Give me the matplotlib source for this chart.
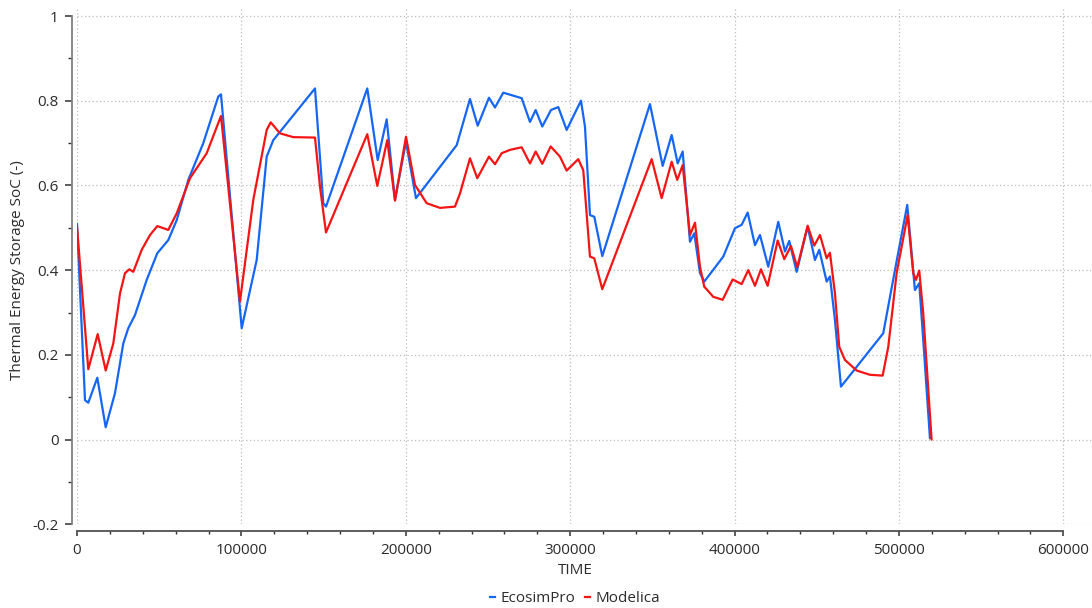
import matplotlib
matplotlib.use("Agg")
import matplotlib.pyplot as plt
from matplotlib.lines import Line2D
from matplotlib.ticker import MultipleLocator, FuncFormatter

plt.rcParams['font.family'] = ['Open Sans', 'DejaVu Sans']

# Simulation time (s) and thermal energy storage state of charge
ecosim_time = [0, 4870, 6870, 12350, 17460, 23120, 28160, 31210, 35280, 42400,
               48850, 55540, 60650, 67700, 76830, 85950, 87600, 100190, 109310,
               115400, 119410, 144780, 149830, 151470, 176590, 182910, 188390,
               193440, 200130, 206210, 230970, 239060, 243750, 250620, 254270,
               259320, 270510, 275560, 279020, 283040, 288330, 292770, 297880,
               306580, 309010, 312060, 314680, 319540, 348560, 356280, 361760,
               365410, 368450, 372900, 375510, 378980, 381590, 393150, 400260,
               404340, 407990, 412430, 415470, 420520, 426600, 430680, 433290,
               437790, 444480, 448920, 451540, 456040, 458050, 461090, 464740,
               490470, 497590, 505070, 509750, 512370, 514800, 518880]
ecosim_soc = [0.51, 0.093, 0.087, 0.146, 0.029, 0.11, 0.227, 0.263, 0.294, 0.377,
              0.44, 0.471, 0.518, 0.613, 0.70, 0.81, 0.815, 0.263, 0.424,
              0.668, 0.707, 0.829, 0.558, 0.55, 0.829, 0.66, 0.756,
              0.566, 0.703, 0.57, 0.695, 0.804, 0.741, 0.807, 0.784,
              0.819, 0.806, 0.75, 0.778, 0.739, 0.778, 0.785, 0.731,
              0.80, 0.739, 0.53, 0.526, 0.433, 0.792, 0.646, 0.719,
              0.652, 0.68, 0.467, 0.487, 0.393, 0.373, 0.432, 0.499,
              0.507, 0.536, 0.459, 0.483, 0.408, 0.514, 0.444, 0.469,
              0.396, 0.503, 0.424, 0.448, 0.373, 0.385, 0.282, 0.125,
              0.251, 0.40, 0.554, 0.353, 0.369, 0.235, 0.003]

modelica_time = [0, 6870, 12590, 17460, 22080, 26160, 29200, 31810, 34250, 39360,
                 44410, 48850, 55540, 60650, 68740, 78900, 86990, 87600, 99150,
                 107240, 115400, 117830, 123480, 131570, 144780, 147820, 151470,
                 176590, 182670, 188750, 193440, 200130, 205610, 212720, 220810,
                 229940, 232980, 239060, 243500, 250620, 254270, 258340, 263390,
                 270510, 275560, 279020, 283040, 288150, 293810, 297880, 304930,
                 307980, 312060, 314680, 319540, 349590, 355670, 361760, 365170,
                 368450, 372900, 375940, 378980, 381590, 387060, 392780, 398860,
                 404340, 408350, 412430, 416080, 420150, 426240, 430250, 434330,
                 438160, 444480, 448500, 451970, 456040, 458050, 461090, 463700,
                 467170, 474290, 482370, 490110, 493520, 498620, 505310, 508720,
                 510360, 512370, 514800, 519880]
modelica_soc = [0.503, 0.166, 0.249, 0.163, 0.227, 0.345, 0.393, 0.402, 0.396, 0.448,
                0.483, 0.504, 0.495, 0.534, 0.617, 0.676, 0.758, 0.764, 0.326,
                0.566, 0.731, 0.749, 0.723, 0.714, 0.713, 0.597, 0.489,
                0.721, 0.599, 0.707, 0.564, 0.715, 0.601, 0.558, 0.547,
                0.55, 0.581, 0.664, 0.617, 0.668, 0.65, 0.676, 0.684,
                0.69, 0.652, 0.68, 0.651, 0.692, 0.668, 0.635, 0.662,
                0.636, 0.432, 0.428, 0.355, 0.662, 0.57, 0.656, 0.613,
                0.648, 0.483, 0.512, 0.408, 0.361, 0.337, 0.33, 0.378,
                0.367, 0.40, 0.363, 0.402, 0.363, 0.47, 0.426, 0.457,
                0.407, 0.505, 0.458, 0.483, 0.428, 0.441, 0.345, 0.219,
                0.188, 0.163, 0.153, 0.151, 0.219, 0.393, 0.53, 0.393,
                0.377, 0.399, 0.298, 0.0]

x_major_ticks = [0, 100000, 200000, 300000, 400000, 500000, 600000]
y_major_ticks = [-0.2, 0, 0.2, 0.4, 0.6, 0.8, 1]
series_names = ['EcosimPro', 'Modelica']

BLUE = '#1566f5'
RED = '#f51414'
TEXT = '#2b2b2b'
W, H, DPI = 1092, 608, 100

fig = plt.figure(figsize=(W / DPI, H / DPI), dpi=DPI)
ax_left, ax_right, ax_top, ax_bottom = 77, 1092, 9, 524.3
ax = fig.add_axes([ax_left / W, 1 - ax_bottom / H,
                   (ax_right - ax_left) / W, (ax_bottom - ax_top) / H])

px_per_x = (1063.3 - 77) / 600000
ax.set_xlim(0, (ax_right - ax_left) / px_per_x)
px_per_y = (524.3 - 16) / 1.2
ax.set_ylim(-0.2, 1 + (16 - ax_top) / px_per_y)

ax.plot(ecosim_time, ecosim_soc, color=BLUE, lw=1.6, solid_joinstyle='round',
        solid_capstyle='round', zorder=3)
ax.plot(modelica_time, modelica_soc, color=RED, lw=1.6, solid_joinstyle='round',
        solid_capstyle='round', zorder=4)

# Spines: only left and bottom, pulled slightly away from the plot area
for s in ('top', 'right'):
    ax.spines[s].set_visible(False)
ax.spines['left'].set_position(('outward', 3.8))
ax.spines['bottom'].set_position(('outward', 5.0))
ax.spines['left'].set_bounds(-0.2, 1)
ax.spines['bottom'].set_bounds(0, 600000)
ax.spines['left'].set_color('#808080')
ax.spines['bottom'].set_color('#505050')
ax.spines['left'].set_linewidth(1.3)
ax.spines['bottom'].set_linewidth(1.3)

ax.set_xticks(x_major_ticks)
ax.xaxis.set_minor_locator(MultipleLocator(20000))
ax.set_yticks(y_major_ticks)
ax.yaxis.set_minor_locator(MultipleLocator(0.1))
ax.xaxis.set_major_formatter(FuncFormatter(lambda v, p: f'{int(round(v))}'))
ax.yaxis.set_major_formatter(FuncFormatter(lambda v, p: f'{v:g}'.replace('\u2212', '-')))

ax.tick_params(axis='y', which='major', length=5, width=1.1, color='#303030',
               pad=4.5, labelsize=11, labelcolor=TEXT)
ax.tick_params(axis='y', which='minor', length=3, width=1.0, color='#303030')
ax.tick_params(axis='x', which='major', length=3.8, width=1.1, color='#303030',
               pad=4.5, labelsize=11, labelcolor=TEXT)
ax.tick_params(axis='x', which='minor', length=2.3, width=1.0, color='#303030')

ax.grid(True, which='major', linestyle=(0, (1, 2)), color='#bdbdbd', lw=0.9)
ax.set_axisbelow(True)

fig.text(575 / W, 1 - 571 / H, 'TIME', ha='center', va='center',
         fontsize=11, color=TEXT)
fig.text(18 / W, 1 - 270 / H, 'Thermal Energy Storage SoC (-)', ha='center',
         va='center', rotation=90, fontsize=11, color=TEXT)

handles = [Line2D([], [], color=BLUE, lw=1.6), Line2D([], [], color=RED, lw=1.6)]
fig.legend(handles, series_names, loc='center', ncol=2,
           bbox_to_anchor=(575 / W, 1 - 599 / H), frameon=False, fontsize=11,
           handlelength=0.35, handletextpad=0.35, columnspacing=0.6,
           labelcolor=TEXT)

fig.savefig('out.png', dpi=DPI)
